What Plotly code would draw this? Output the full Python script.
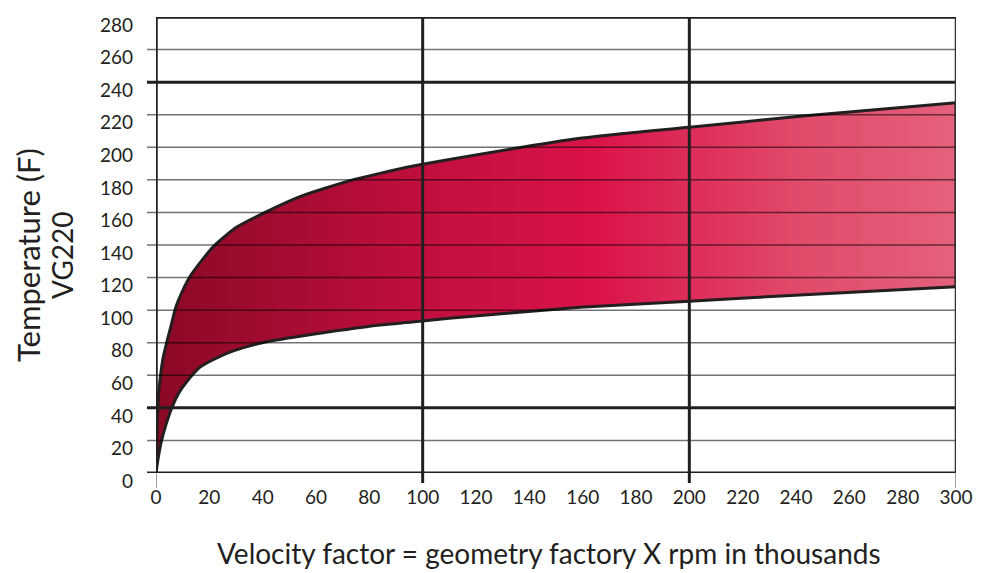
import plotly.graph_objects as go

# ---- data ----
upper_x = [0, 0.4, 0.8, 1.5, 2.7, 4.0, 5.9, 7.1, 8.4, 12.7, 21.5, 30.3, 41.5, 54, 72.7, 84, 96.5, 110, 159, 200, 241.5, 300]
upper_y = [0, 25, 45, 57, 71, 80, 92, 100, 106, 120.5, 139, 151, 160.5, 169.7, 179.5, 184, 188.5, 192.5, 205.5, 212.3, 219.0, 227.4]

lower_x = [0, 0.9, 2.1, 3.8, 5.9, 8.5, 11.5, 16.5, 22, 29, 41.5, 54, 84, 96, 110, 159, 200, 241.5, 300]
lower_y = [0, 10, 20, 30, 40, 49, 56, 65, 70, 75, 80.6, 84, 90.9, 92.7, 95.0, 101.7, 105.5, 109.3, 114.4]

x_ticks = list(range(0, 301, 20))
y_ticks = list(range(0, 281, 20))
x_major = [100, 200]
y_major = [0, 40, 240]

INK = "#231f20"
FONT = "Lato, 'Open Sans', sans-serif"

# closed band polygon: upper curve forward, lower curve back
band_x = upper_x + lower_x[::-1]
band_y = upper_y + lower_y[::-1]

fig = go.Figure()
fig.add_trace(go.Scatter(
    x=band_x, y=band_y, mode="lines", fill="toself",
    line=dict(color="rgba(0,0,0,0)", width=0),
    fillgradient=dict(
        type="horizontal",
        colorscale=[[0, "#8a0924"], [0.33, "#c10f3e"], [0.55, "#da1349"],
                    [0.8, "#e14a6a"], [1, "#e4617b"]],
    ),
    hoverinfo="skip", showlegend=False,
))
fig.add_trace(go.Scatter(x=upper_x, y=upper_y, mode="lines",
                         line=dict(color=INK, width=3, shape="spline", smoothing=0.6),
                         hoverinfo="skip", showlegend=False))
fig.add_trace(go.Scatter(x=lower_x, y=lower_y, mode="lines",
                         line=dict(color=INK, width=3, shape="spline", smoothing=0.6),
                         hoverinfo="skip", showlegend=False))
fig.add_trace(go.Scatter(x=[upper_x[-1], lower_x[-1]], y=[upper_y[-1], lower_y[-1]],
                         mode="lines", line=dict(color=INK, width=3),
                         hoverinfo="skip", showlegend=False))

shapes = []
W, H = 800.0, 456.0
# horizontal grid lines
for v in y_ticks:
    if v == 280:
        continue
    major = v in y_major
    shapes.append(dict(
        type="line", xref="paper", yref="y", x0=-9 / W, x1=1, y0=v, y1=v,
        line=dict(color=INK if major else "rgba(0,0,0,0.55)", width=3 if major else 1.5),
        layer="above"))
# top border
shapes.append(dict(type="line", xref="paper", yref="y", x0=0, x1=1, y0=280, y1=280,
                   line=dict(color=INK, width=3.5), layer="above"))
# left border + tick
shapes.append(dict(type="line", xref="x", yref="paper", x0=0, x1=0, y0=0, y1=1,
                   line=dict(color=INK, width=3.5), layer="above"))
shapes.append(dict(type="line", xref="x", yref="paper", x0=0, x1=0, y0=-15 / H, y1=0,
                   line=dict(color="rgba(0,0,0,0.5)", width=1.5), layer="above"))
# right border + tick
shapes.append(dict(type="line", xref="x", yref="paper", x0=300, x1=300, y0=0, y1=1,
                   line=dict(color="#333", width=2.5), layer="above"))
shapes.append(dict(type="line", xref="x", yref="paper", x0=300, x1=300, y0=-15 / H, y1=0,
                   line=dict(color="rgba(0,0,0,0.5)", width=1.5), layer="above"))
# major vertical grid lines
for v in x_major:
    shapes.append(dict(type="line", xref="x", yref="paper", x0=v, x1=v, y0=-10 / H, y1=1,
                       line=dict(color=INK, width=3), layer="above"))

fig.update_layout(
    width=990, height=573,
    margin=dict(l=156, r=34, t=17, b=100, autoexpand=False),
    paper_bgcolor="white", plot_bgcolor="white",
    showlegend=False,
    shapes=shapes,
    font=dict(family=FONT, color=INK),
    xaxis=dict(range=[0, 300], tickvals=x_ticks, ticktext=[str(t) for t in x_ticks],
               showgrid=False, zeroline=False, showline=False, ticks="",
               automargin=False,
               ticklabelstandoff=11, tickfont=dict(size=19, family=FONT, color=INK),
               fixedrange=True),
    yaxis=dict(range=[0, 280], tickvals=y_ticks, ticktext=[str(t) for t in y_ticks],
               showgrid=False, zeroline=False, showline=False, ticks="",
               automargin=False,
               ticklabelstandoff=22, ticklabelshift=8,
               tickfont=dict(size=19, family=FONT, color=INK), fixedrange=True),
    annotations=[
        dict(text="Velocity factor = geometry factory X rpm in thousands",
             xref="paper", yref="paper", x=(549 - 156) / W, y=(473 - 553) / H,
             xanchor="center", yanchor="middle", showarrow=False,
             font=dict(size=28, family=FONT, color=INK)),
        dict(text="Temperature (F)", textangle=-90,
             xref="paper", yref="paper", x=(28 - 156) / W, y=(473 - 255) / H,
             xanchor="center", yanchor="middle", showarrow=False,
             font=dict(size=31, family=FONT, color=INK)),
        dict(text="VG220", textangle=-90,
             xref="paper", yref="paper", x=(62 - 156) / W, y=(473 - 255) / H,
             xanchor="center", yanchor="middle", showarrow=False,
             font=dict(size=28, family=FONT, color=INK)),
    ],
)

fig.write_html("out.html", config={"displayModeBar": False},
               post_script="document.body.style.margin='0';document.body.style.overflow='hidden';")
